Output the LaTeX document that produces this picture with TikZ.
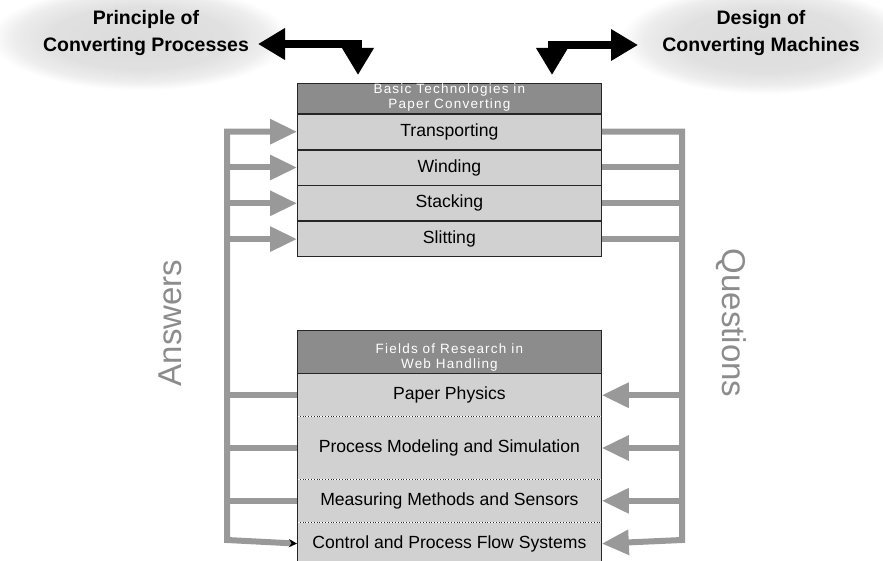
\documentclass[tikz,border=0pt]{standalone}
\usepackage{fontspec}
\setmainfont{Liberation Sans}
\newfontfamily\hdrfont[LetterSpace=9]{Liberation Sans}
\usetikzlibrary{arrows.meta,calc}
\pgfdeclareradialshading{softell}{\pgfpoint{0bp}{0bp}}{color(0bp)=(black!14); color(15bp)=(black!12); color(21bp)=(black!7); color(25bp)=(white); color(50bp)=(white)}
\definecolor{rowgray}{gray}{0.82}
\definecolor{hdrgray}{gray}{0.55}
\definecolor{arrgray}{gray}{0.6}
\definecolor{txtgray}{gray}{0.55}
\begin{document}
\begin{tikzpicture}[x=1pt,y=-1pt,
 hdr/.style={fill=hdrgray, draw=black!85, line width=0.8pt, minimum width=304pt, inner sep=0pt, anchor=north west},
 hdrtext/.style={text=white, align=center, inner sep=0pt, font=\hdrfont\fontsize{13.5}{15}\selectfont},
 row/.style={fill=rowgray, draw=black!85, line width=0.8pt, minimum width=304pt, inner sep=0pt, anchor=north west, font=\fontsize{17.6}{20}\selectfont},
 frow/.style={row, draw=none},
 gline/.style={draw=arrgray, line width=6pt},
 garrow/.style={gline, -{Triangle[length=27pt,width=24pt,fill=arrgray]}},
 barrow/.style={line width=8pt, {Triangle[length=27pt,width=30pt]}-{Triangle[length=27pt,width=30pt]}},
 side/.style={text=txtgray, font=\fontsize{33}{36}\selectfont},
 toptext/.style={align=center, font=\bfseries\fontsize{19.5}{27}\selectfont}
]
\useasboundingbox (0,0) rectangle (883,561);
\fill[white] (0,0) rectangle (883,561);

% background ellipses
\shade[shading=softell] (140,38) ellipse [x radius=150pt, y radius=52pt];
\shade[shading=softell] (765,40) ellipse [x radius=145pt, y radius=54pt];

\node[toptext] (pcp) at (146,33) {Principle of\\Converting Processes};
\node[toptext] (dcm) at (761,33) {Design of\\Converting Machines};

% top box
\node[hdr, minimum height=30pt] (h1) at (297,83) {};
\node[hdrtext] (h1t) at ($(h1.center)+(0,-1)$) {Basic Technologies in\\Paper Converting};
\node[row, minimum height=35pt] (t1) at (h1.south west) {Transporting};
\node[row, minimum height=35pt] (t2) at (t1.south west) {Winding};
\node[row, minimum height=35pt] (t3) at (t2.south west) {Stacking};
\node[row, minimum height=35pt] (t4) at (t3.south west) {Slitting};

% bottom box
\node[hdr, minimum height=43pt] (h2) at (297,330) {};
\node[hdrtext] (h2t) at ($(h2.center)+(0,6)$) {Fields of Research in\\Web Handling};
\node[frow, minimum height=42pt] (b1) at (h2.south west) {Paper Physics};
\node[frow, minimum height=62pt] (b2) at (b1.south west) {Process Modeling and Simulation};
\node[frow, minimum height=42pt] (b3) at (b2.south west) {Measuring Methods and Sensors};
\node[frow, minimum height=42pt] (b4) at (b3.south west) {Control and Process Flow Systems};
\draw[line width=0.8pt, black!85] (b4.south west) -- (h2.north west) -- (h2.north east) -- (b4.south east);
\draw[line width=0.8pt, black!85] (h2.south west) -- (h2.south east);
\foreach \r in {b1,b2,b3}{\draw[dotted, line width=0.8pt, black!85] (\r.south west) -- (\r.south east);}

% loop coordinates
\coordinate (Lb) at (227,540);
\coordinate (Rb) at (682,540);

% answers loop (left)
\draw[gline, {Stealth[length=8pt,width=8pt,black]}-{Triangle[length=27pt,width=24pt,fill=arrgray]}] (b4.west) -- (Lb) |- (t1.west);
\foreach \r in {t2,t3,t4}{\draw[garrow] (\r.west -| Lb) -- (\r.west);}
\foreach \r in {b1,b2,b3}{\draw[gline] (\r.west) -- (\r.west -| Lb);}

% questions loop (right)
\draw[garrow] (t1.east) -| (Rb) -- (b4.east);
\foreach \r in {t2,t3,t4}{\draw[gline] (\r.east) -- (\r.east -| Rb);}
\foreach \r in {b1,b2,b3}{\draw[garrow] (\r.east -| Rb) -- (\r.east);}

\node[side, rotate=90] (ans) at (170,323) {Answers};
\node[side, rotate=-90] (que) at (731,323) {Questions};

% black arrows
\coordinate (pL) at (258,44);
\coordinate (dL) at (358,75);
\draw[barrow] (pL) -| (dL);
\coordinate (dR) at (552,75);
\coordinate (pR) at (638,45);
\draw[barrow] (dR) |- (pR);
\end{tikzpicture}
\end{document}
